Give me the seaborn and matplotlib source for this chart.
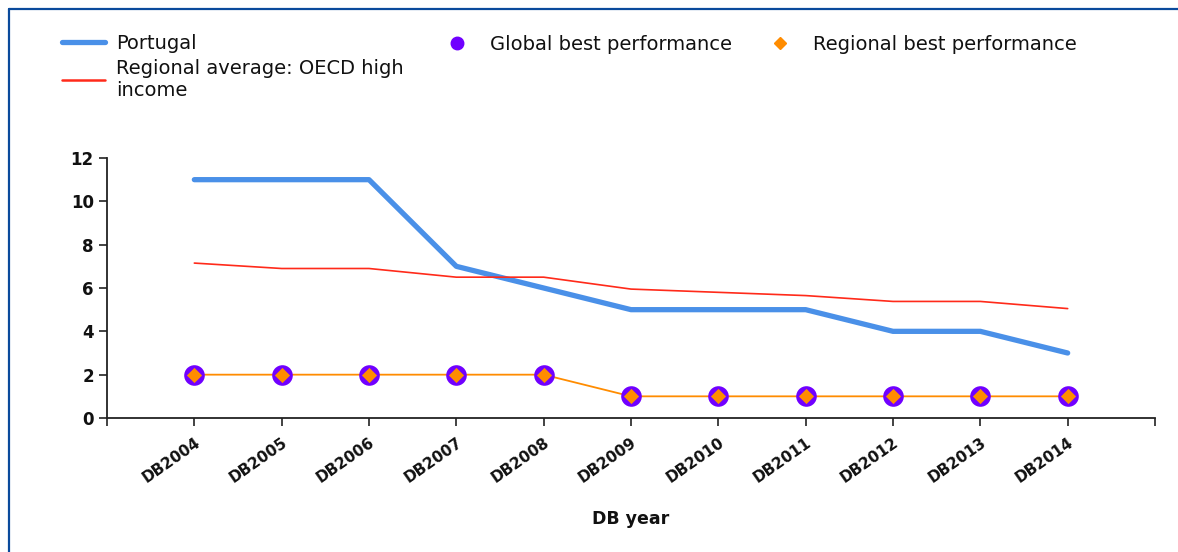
import numpy as np
import pandas as pd
import matplotlib.pyplot as plt
import seaborn as sns
from matplotlib.lines import Line2D

years = ['DB2004', 'DB2005', 'DB2006', 'DB2007', 'DB2008', 'DB2009',
         'DB2010', 'DB2011', 'DB2012', 'DB2013', 'DB2014']
portugal = [11, 11, 11, 7, 6, 5, 5, 5, 4, 4, 3]
regional_avg = [7.15, 6.9, 6.9, 6.5, 6.5, 5.95, 5.8, 5.65, 5.38, 5.38, 5.05]
global_best = [2, 2, 2, 2, 2, 1, 1, 1, 1, 1, 1]
regional_best = [2, 2, 2, 2, 2, 1, 1, 1, 1, 1, 1]

df = pd.DataFrame({'pos': np.arange(len(years)), 'year': years,
                   'portugal': portugal, 'avg': regional_avg,
                   'gbest': global_best, 'rbest': regional_best})

sns.set_style('white')
plt.rcParams['font.family'] = ['DejaVu Sans']
plt.rcParams['text.color'] = '#111111'
plt.rcParams['xtick.color'] = '#111111'
plt.rcParams['ytick.color'] = '#111111'
plt.rcParams['axes.labelcolor'] = '#111111'

fig = plt.figure(figsize=(11.78, 5.52), dpi=100)
ax = fig.add_axes([107 / 1178, 1 - 418 / 552, (1155 - 107) / 1178, (418 - 158) / 552])

blue = '#4a90e8'
red = '#ff2a1a'
orange = '#ff8c00'
purple = '#7000ff'

sns.lineplot(data=df, x='pos', y='portugal', color=blue, linewidth=3.8,
             ax=ax, legend=False)
sns.lineplot(data=df, x='pos', y='avg', color=red, linewidth=1.2,
             ax=ax, legend=False)
sns.lineplot(data=df, x='pos', y='rbest', color=orange, linewidth=1.3,
             ax=ax, legend=False, zorder=2)
sns.scatterplot(data=df, x='pos', y='gbest', color=purple, s=220,
                linewidth=0, ax=ax, legend=False, zorder=3)
sns.scatterplot(data=df, x='pos', y='rbest', color=orange, marker='D', s=60,
                linewidth=0, ax=ax, legend=False, zorder=4)

ax.set_xlim(-1, len(years))
ax.set_ylim(0, 12)
ax.set_xticks(np.arange(-1, len(years) + 1))
ax.set_xticklabels([''] + years + [''], rotation=35, ha='right',
                   rotation_mode='anchor', fontweight='bold', fontsize=11)
ax.set_yticks(np.arange(0, 13, 2))
ax.set_yticklabels([str(v) for v in range(0, 13, 2)], fontweight='bold',
                   fontsize=12)
ax.tick_params(axis='both', direction='out', length=6, width=1.2,
               color='#222222', bottom=True, left=True)
ax.tick_params(axis='x', pad=6)
for side in ['top', 'right']:
    ax.spines[side].set_visible(False)
for side in ['left', 'bottom']:
    ax.spines[side].set_color('#222222')
    ax.spines[side].set_linewidth(1.3)
ax.set_xlabel('DB year', fontweight='bold', fontsize=12.5, labelpad=18)
ax.set_ylabel('')

# legends
h1 = [Line2D([], [], color=blue, lw=3.8),
      Line2D([], [], color=red, lw=1.8)]
fig.legend(h1, ['Portugal', 'Regional average: OECD high\nincome'],
           loc='upper left', bbox_to_anchor=(62 / 1178, 1 - 34 / 552),
           frameon=False, fontsize=14, handlelength=2.2,
           handletextpad=0.6, borderpad=0, borderaxespad=0,
           labelspacing=0.3)
h2 = [Line2D([], [], color=purple, marker='o', ls='', markersize=9)]
fig.legend(h2, ['Global best performance'], loc='upper left',
           bbox_to_anchor=(447 / 1178, 1 - 35 / 552), frameon=False,
           fontsize=14, handlelength=1.0, handletextpad=1.2,
           borderpad=0, borderaxespad=0)
h3 = [Line2D([], [], color=orange, marker='D', ls='', markersize=6)]
fig.legend(h3, ['Regional best performance'], loc='upper left',
           bbox_to_anchor=(770 / 1178, 1 - 35 / 552), frameon=False,
           fontsize=14, handlelength=1.0, handletextpad=1.2,
           borderpad=0, borderaxespad=0)

# window frame on left and top
fig.add_artist(Line2D([9 / 1178, 9 / 1178], [0, 1 - 9 / 552],
                      color='#0a4a9c', lw=1.6, transform=fig.transFigure))
fig.add_artist(Line2D([9 / 1178, 1], [1 - 9 / 552, 1 - 9 / 552],
                      color='#0a4a9c', lw=1.6, transform=fig.transFigure))

fig.savefig('out.png', dpi=100)
